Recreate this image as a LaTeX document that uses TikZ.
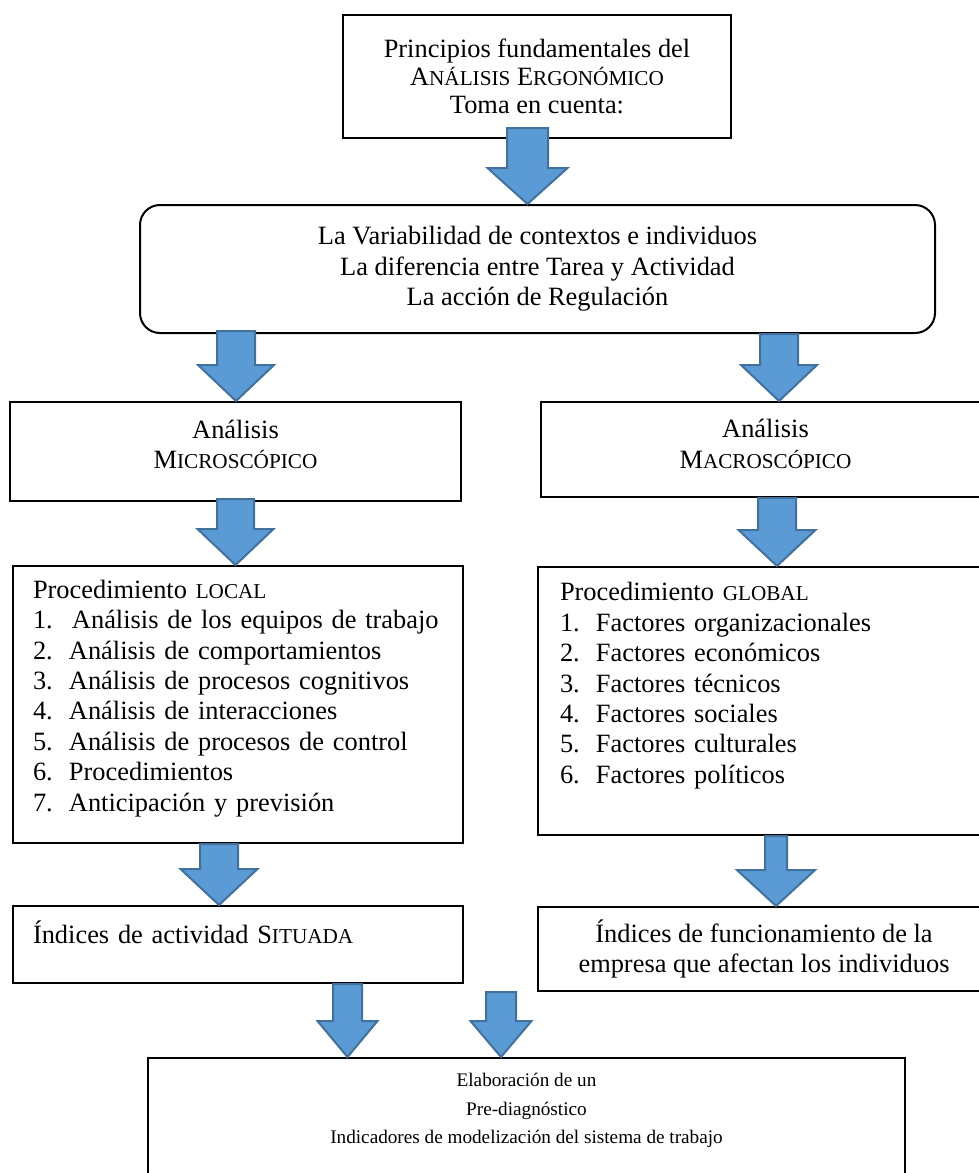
\documentclass[tikz,border=0pt]{standalone}
\usepackage{fontspec}
\setmainfont{Liberation Serif}
\usepackage{tikz}
\usetikzlibrary{calc}

\definecolor{azul}{HTML}{5B9BD5}
\definecolor{azulborde}{HTML}{41719C}

\newcommand{\versal}[1]{{\fontsize{10.6}{12}\selectfont #1}}
\newcommand{\punto}[1]{\makebox[18pt][l]{#1.}}
\newcommand{\hueco}[1]{\rule[-#1]{0pt}{#1}}
% [overlap]{x}{from}{to}{shaft half width}{head half width}
\newcommand{\flecha}[6][0pt]{%
  \draw[bloque] let \p1 = (#2,0 |- #3.south), \p2 = (#2,0 |- #4.north) in
    (\x1-#5,\y1+#1) -- (\x1+#5,\y1+#1) -- (\x1+#5,\y2+18pt) -- (\x1+#6,\y2+18pt)
    -- (\x2,\y2) -- (\x1-#6,\y2+18pt) -- (\x1-#5,\y2+18pt) -- cycle;
}

\begin{document}
\begin{tikzpicture}[x=0.5pt, y=-0.5pt,
    caja/.style={draw, line width=1pt, inner xsep=10pt, inner ysep=0pt, font=\fontsize{13.2}{15.2}\selectfont},
    bloque/.style={fill=azul, draw=azulborde, line width=1pt, line join=miter}]
        \useasboundingbox (0,0) rectangle (979,1173);
        \clip (0,0) rectangle (979,1173);

        % Principios
        \node[caja, minimum width=194pt, minimum height=61.5pt, align=center,
              font=\fontsize{13.2}{14}\selectfont] (princ) at (537,76.5)
            {Principios fundamentales del\\ A\versal{NÁLISIS} E\versal{RGONÓMICO}\\ Toma en cuenta:};
        \node[caja, rounded corners=10pt, minimum width=397.5pt, minimum height=64pt, align=center] (var) at (537.5,269)
            {La Variabilidad de contextos e individuos\\ La diferencia entre Tarea y Actividad\\ La acción de Regulación};

        % Analisis
        \node[caja, minimum width=225.5pt, minimum height=49.5pt, align=center] (micro) at (235.5,451.5)
            {Análisis\\ M\versal{ICROSCÓPICO}\hueco{7pt}};
        \node[caja, minimum width=224.5pt, minimum height=47.5pt, align=center] (macro) at (765.5,449.5)
            {Análisis\\ M\versal{ACROSCÓPICO}\hueco{5.5pt}};

        % Procedimientos
        \node[caja, minimum width=225pt, minimum height=138.5pt, text width=205pt, align=left] (local) at (238,704.5)
            {Procedimiento \versal{LOCAL}\\
             \punto{1}\hspace{1.5pt}Análisis de los equipos de trabajo\\
             \punto{2}Análisis de comportamientos\\
             \punto{3}Análisis de procesos cognitivos\\
             \punto{4}Análisis de interacciones\\
             \punto{5}Análisis de procesos de control\\
             \punto{6}Procedimientos\\
             \punto{7}Anticipación y previsión\hueco{8.9pt}};
        \node[caja, inner xsep=11pt, minimum width=226pt, minimum height=134pt, text width=204pt, align=left] (global) at (764,701)
            {Procedimiento \versal{GLOBAL}\\
             \punto{1}Factores organizacionales\\
             \punto{2}Factores económicos\\
             \punto{3}Factores técnicos\\
             \punto{4}Factores sociales\\
             \punto{5}Factores culturales\\
             \punto{6}Factores políticos\hueco{18pt}};

        % Indices
        \node[caja, minimum width=225pt, minimum height=38.5pt, text width=205pt, align=left] (situada) at (238,944.5)
            {Índices de actividad S\versal{ITUADA}\hueco{12.5pt}};
        \node[caja, minimum width=226pt, minimum height=42pt, align=center] (empresa) at (764,949)
            {Índices de funcionamiento de la\\ empresa que afectan los individuos};

        % Pre-diagnostico
        \node[caja, minimum width=378.5pt, minimum height=66pt, font=\fontsize{9.6}{14.25}\selectfont] (prediag) at (526.5,1124)
            {\parbox{220pt}{\centering Elaboración de un\\ Pre-diagnóstico\\
             Indicadores de modelización del sistema de trabajo\hueco{15.6pt}}\hspace{76.5pt}};

        % Flechas
        \flecha[5.5pt]{527.5}{princ}{var}{10.25pt}{20pt}
        \flecha[1.5pt]{236}{var}{micro}{9.5pt}{19pt}
        \flecha{779}{var}{macro}{9.5pt}{19pt}
        \flecha[1.5pt]{235.5}{micro}{local}{9.25pt}{19pt}
        \flecha{777}{macro}{global}{9.5pt}{19.25pt}
        \flecha{219}{local}{situada}{9.5pt}{19.25pt}
        \flecha{776}{global}{empresa}{5.5pt}{19.5pt}
        \flecha{347.5}{situada}{prediag}{7.25pt}{15pt}
        \flecha{501}{empresa}{prediag}{7.5pt}{15.25pt}
    \end{tikzpicture}
\end{document}
